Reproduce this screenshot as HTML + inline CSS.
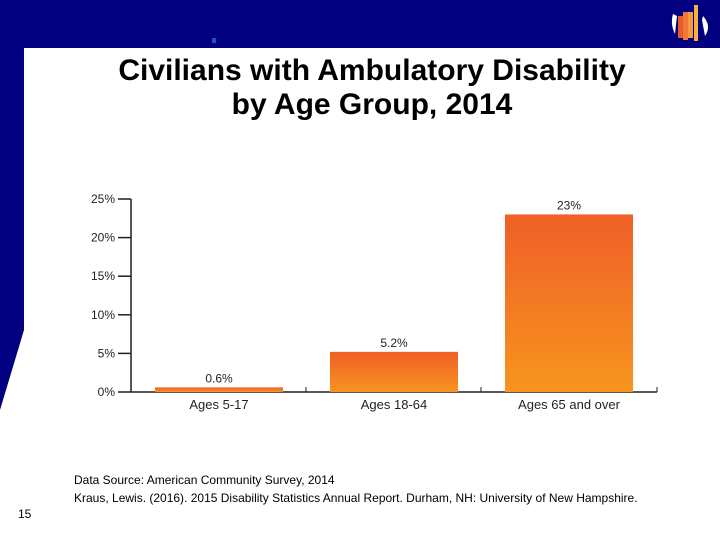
<!DOCTYPE html>
<html><head><meta charset="utf-8"><style>
html,body{margin:0;padding:0;}
body{width:720px;height:540px;position:relative;overflow:hidden;background:#fff;font-family:"Liberation Sans",sans-serif;}
.t{position:absolute;}
</style></head><body>
<svg width="720" height="540" style="position:absolute;left:0;top:0">
<defs><linearGradient id="g" x1="0" y1="0" x2="0" y2="1"><stop offset="0" stop-color="#ef5f27"/><stop offset="1" stop-color="#f7941f"/></linearGradient></defs>
<polygon points="0,0 720,0 720,48 24,48 24,330 0,410" fill="#000080"/>
<rect x="212" y="38" width="4" height="5" fill="#2050c0"/>
<g>
<path d="M673,14 Q670,24 675,34 L677,16 Z M703,16 Q712,26 705,36 L702,20 Z" fill="#fff"/>
<rect x="678" y="16" width="5" height="22" fill="#e85a2a"/>
<rect x="683" y="12" width="5" height="28" fill="#f07838"/>
<rect x="688" y="12" width="5" height="26" fill="#f59a40"/>
<rect x="694" y="5" width="4" height="36" fill="#f8b040"/>
</g>
<g id="chart"></g>
</svg>
<div class="t" style="left:24px;width:696px;top:54px;text-align:center;font-size:30px;font-weight:bold;line-height:34px;color:#000">Civilians with Ambulatory Disability<br>by Age Group, 2014</div>
<div class="t" style="left:74px;top:471px;font-size:12px;line-height:18px;color:#000">Data Source: American Community Survey, 2014<br>Kraus, Lewis. (2016). 2015 Disability Statistics Annual Report. Durham, NH: University of New Hampshire.</div>
<div class="t" style="left:18px;top:507px;font-size:12px;color:#000">15</div>
<script>
const categories=["Ages 5-17","Ages 18-64","Ages 65 and over"];
const values=[0.6,5.2,23];
const valueLabels=["0.6%","5.2%","23%"];
const ticks=[0,5,10,15,20,25];
const tickLabels=["0%","5%","10%","15%","20%","25%"];
const NS="http://www.w3.org/2000/svg";
const g=document.getElementById('chart');
const y0=392,ppu=7.72,x0=131,step=175,bw=128,bx0=155;
const y=v=>y0-v*ppu;
function mk(t,a){const e=document.createElementNS(NS,t);for(const k in a)e.setAttribute(k,a[k]);g.appendChild(e);return e;}
let e=mk('line',{x1:x0,y1:y(25),x2:x0,y2:y0,stroke:'#231f20','stroke-width':1.5});


e=mk('line',{x1:x0,y1:y0,x2:657,y2:y0,stroke:'#231f20','stroke-width':1.5});


[306,481,657].forEach(x=>{mk('line',{x1:x,y1:y0-5,x2:x,y2:y0,stroke:'#231f20','stroke-width':1});});
ticks.forEach((t,i)=>{
 mk('line',{x1:118,y1:y(t),x2:x0,y2:y(t),stroke:'#231f20','stroke-width':1.5});
 const tx=mk('text',{x:115,y:y(t)+4,'text-anchor':'end','font-size':12,fill:'#231f20','font-family':'Liberation Sans, sans-serif'});
 tx.textContent=tickLabels[i];
 
 
});
values.forEach((v,i)=>{
 const x=bx0+i*step;
 const r=mk('rect',{x:x,y:y(v),width:bw,height:y0-y(v),fill:'url(#g)'});
 
 
 const vl=mk('text',{x:x+bw/2,y:y(v)-5,'text-anchor':'middle','font-size':12,fill:'#231f20','font-family':'Liberation Sans, sans-serif'});
 vl.textContent=valueLabels[i];
 
 
 const cl=mk('text',{x:x+bw/2,y:409,'text-anchor':'middle','font-size':13,fill:'#231f20','font-family':'Liberation Sans, sans-serif'});
 cl.textContent=categories[i];
 
 
});
</script>
</body></html>
